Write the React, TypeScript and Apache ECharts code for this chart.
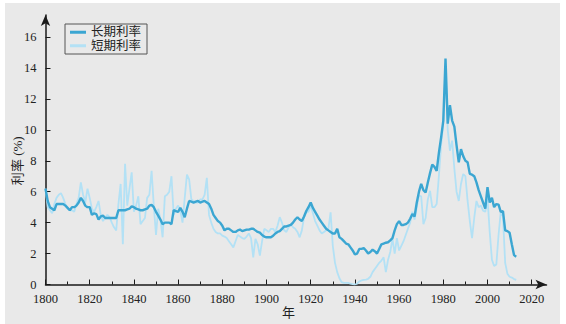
import React, { useEffect, useRef } from 'react';
import * as echarts from 'echarts';

const START_YEAR = 1800;

// 长期利率 (annual, 1800–2013)
const LONG_RATE = [
  6.2, 5.4, 5.0, 4.9, 4.8, 5.2, 5.2, 5.2, 5.2, 5.1,
  4.95, 4.8, 5.0, 5.0, 5.1, 5.3, 5.6, 5.4, 5.1, 5.0,
  5.0, 4.5, 4.6, 4.55, 4.2, 4.4, 4.45, 4.3, 4.3, 4.3,
  4.3, 4.3, 4.3, 4.8, 4.8, 4.8, 4.8, 4.85, 4.9, 5.05,
  5.0, 4.9, 4.85, 4.8, 4.8, 4.85, 4.9, 5.1, 5.15, 5.0,
  4.7, 4.45, 4.2, 3.9, 4.0, 4.0, 4.0, 3.9, 4.8, 4.75,
  4.7, 4.95, 4.7, 4.35, 4.9, 5.4, 5.35, 5.3, 5.35, 5.4,
  5.3, 5.35, 5.4, 5.3, 5.2, 4.9, 4.5, 4.3, 4.1, 4.0,
  3.8, 3.5, 3.6, 3.6, 3.5, 3.4, 3.4, 3.5, 3.55, 3.45,
  3.5, 3.55, 3.55, 3.6, 3.6, 3.5, 3.4, 3.35, 3.2, 3.1,
  3.05, 3.05, 3.05, 3.15, 3.3, 3.4, 3.45, 3.6, 3.75, 3.75,
  3.8, 3.85, 4.0, 4.2, 4.35, 4.2, 4.1, 4.4, 4.75, 5.0,
  5.3, 4.95, 4.7, 4.45, 4.2, 4.0, 3.8, 3.6, 3.5, 3.4,
  3.3, 3.3, 3.6, 3.05, 2.95, 2.8, 2.65, 2.6, 2.4, 2.2,
  1.95, 2.0, 2.3, 2.3, 2.35, 2.2, 2.0, 2.1, 2.25, 2.15,
  2.0, 2.3, 2.6, 2.65, 2.7, 2.73, 2.85, 3.0, 3.5, 3.9,
  4.1, 3.85, 3.85, 3.9, 4.0, 4.25, 4.55, 4.4, 5.3, 6.0,
  6.5, 6.1, 5.95, 6.6, 7.2, 7.75, 7.6, 7.35, 8.5, 9.5,
  10.6, 14.6, 10.4, 11.6, 10.6, 10.2, 9.0, 7.9, 8.75, 8.3,
  8.0, 7.9, 7.15, 7.1, 7.0, 6.6, 6.1, 5.7, 5.3, 4.9,
  6.3, 5.3, 5.6, 5.0, 5.2, 5.16, 4.7, 4.75, 3.5, 3.45,
  3.35, 2.6, 1.9, 1.8,
];

// 短期利率 (annual, 1800–2013)
const SHORT_RATE = [
  6.2, 5.0, 4.8, 4.6, 5.2, 5.6, 5.8, 5.9, 5.6, 5.2,
  4.9, 4.8, 4.8, 4.7, 5.2, 5.6, 6.6, 5.8, 5.3, 6.2,
  5.6, 4.9, 4.7, 5.0, 5.4, 4.5, 4.1, 4.3, 4.5, 4.35,
  4.0, 3.7, 3.5, 5.2, 6.5, 2.6, 7.8, 5.1, 6.2, 7.25,
  4.7, 5.1, 5.7, 3.9, 4.1, 4.3, 5.6, 5.8, 7.35, 5.1,
  3.2, 4.9, 4.2, 3.05, 5.7, 5.8, 6.0, 7.0, 4.5, 4.9,
  5.1, 4.8, 4.0, 5.6, 7.1, 6.8, 5.5, 5.4, 5.3, 5.3,
  5.5, 5.5, 5.8, 6.9, 4.5, 4.0, 3.6, 3.4, 3.3, 3.3,
  3.16, 3.1, 3.0, 2.8, 2.6, 2.4, 2.8, 3.2, 3.1, 3.0,
  2.95, 3.1, 3.3, 3.0, 1.76, 2.95, 2.6, 1.87, 2.8, 3.6,
  3.5, 3.4, 3.6, 3.6, 3.4, 3.8, 4.35, 4.0, 3.5, 3.4,
  3.7, 3.9, 3.7, 3.6, 3.4, 3.05, 3.5, 4.35, 4.7, 4.7,
  5.1, 4.6, 4.1, 3.8, 3.5, 3.3, 3.4, 3.5, 3.6, 4.66,
  2.5, 1.4, 0.8, 0.4, 0.15, 0.1, 0.1, 0.1, 0.05, 0.02,
  0.0, 0.05, 0.2, 0.26, 0.3, 0.32, 0.37, 0.5, 0.8, 1.0,
  1.2, 1.4, 1.55, 1.76, 0.8, 1.6, 2.1, 2.95, 2.0, 3.0,
  2.2, 2.5, 2.8, 3.2, 3.6, 4.0, 4.7, 4.2, 5.0, 5.74,
  5.7, 3.9, 4.3, 5.5, 6.06, 5.0, 5.0, 5.2, 7.0, 9.0,
  10.4, 14.0, 10.0, 8.65, 9.3, 7.5, 6.0, 5.4, 6.5, 7.14,
  7.0, 5.4, 4.1, 3.0, 4.3, 5.4, 5.0, 5.1, 4.77, 4.7,
  5.6, 3.4, 1.6, 1.2, 1.3, 3.2, 4.7, 4.4, 1.4, 0.7,
  0.5, 0.45, 0.35, 0.3,
];

const SERIES_NAMES = ['长期利率', '短期利率'];
const X_NAME = '年';
const Y_NAME = '利率 (%)';

const SERIF = "'Liberation Serif', 'DejaVu Serif', 'Noto Sans CJK SC', serif";

export default function App() {
  const ref = useRef<HTMLDivElement>(null);

  useEffect(() => {
    document.body.style.margin = '0';
    if (!ref.current) return;
    const chart = echarts.init(ref.current, null, { renderer: 'svg' });
    const toPairs = (arr: number[]) => arr.map((v, i) => [START_YEAR + i, v]);
    const axisColor = '#1a1a1a';

    chart.setOption({
      animation: false,
      backgroundColor: 'transparent',
      grid: [
        { left: 45.5, right: 34.3, top: 37, bottom: 39.5, containLabel: false, outerBoundsMode: 'none' },
        { left: 45.5, right: 19.5, top: 15, bottom: 39.5, containLabel: false, outerBoundsMode: 'none' },
      ],
      legend: {
        left: 65,
        top: 24,
        orient: 'vertical',
        data: SERIES_NAMES,
        icon: 'rect',
        itemWidth: 16,
        itemHeight: 3,
        itemGap: 1,
        padding: [2, 6, 2, 5],
        borderColor: '#555',
        borderWidth: 1,
        textStyle: { fontSize: 12.5, color: '#222', fontFamily: SERIF },
      },
      xAxis: [
        {
          type: 'value',
          gridIndex: 0,
          min: 1800,
          max: 2020,
          interval: 20,
          axisLine: { show: false },
          axisTick: { show: true, inside: true, length: 5, lineStyle: { color: axisColor, width: 1 } },
          minorTick: { show: true, splitNumber: 2, length: 3, lineStyle: { color: axisColor, width: 1 } },
          splitLine: { show: false },
          axisLabel: {
            color: '#222',
            fontFamily: SERIF,
            fontSize: 12.5,
            margin: 8,
            formatter: (v: number) => String(v),
          },
          name: X_NAME,
          nameLocation: 'middle',
          nameGap: 21,
          nameMoveOverlap: false,
          nameTextStyle: { color: '#222', fontFamily: SERIF, fontSize: 13 },
        },
        {
          type: 'value',
          gridIndex: 1,
          min: 0,
          max: 1,
          axisLine: {
            show: true,
            symbol: ['none', 'arrow'],
            symbolSize: [7, 11],
            lineStyle: { color: axisColor, width: 1.5 },
          },
          axisTick: { show: false },
          axisLabel: { show: false },
          splitLine: { show: false },
        },
      ],
      yAxis: [
        {
          type: 'value',
          gridIndex: 0,
          min: 0,
          max: 16,
          interval: 2,
          axisLine: { show: false },
          axisTick: { show: true, inside: true, length: 5, lineStyle: { color: axisColor, width: 1 } },
          splitLine: { show: false },
          axisLabel: { color: '#222', fontFamily: SERIF, fontSize: 12.5, margin: 9 },
          name: Y_NAME,
          nameLocation: 'middle',
          nameRotate: 90,
          nameGap: 22,
          nameMoveOverlap: false,
          nameTextStyle: { color: '#222', fontFamily: SERIF, fontSize: 13 },
        },
        {
          type: 'value',
          gridIndex: 1,
          min: 0,
          max: 1,
          axisLine: {
            show: true,
            symbol: ['none', 'arrow'],
            symbolSize: [7, 11],
            lineStyle: { color: axisColor, width: 1.5 },
          },
          axisTick: { show: false },
          axisLabel: { show: false },
          splitLine: { show: false },
        },
      ],
      series: [
        {
          name: SERIES_NAMES[1],
          type: 'line',
          xAxisIndex: 0,
          yAxisIndex: 0,
          data: toPairs(SHORT_RATE),
          symbol: 'none',
          showSymbol: false,
          lineStyle: { color: '#b3e1f5', width: 1.8 },
          itemStyle: { color: '#b3e1f5' },
          z: 2,
        },
        {
          name: SERIES_NAMES[0],
          type: 'line',
          xAxisIndex: 0,
          yAxisIndex: 0,
          data: toPairs(LONG_RATE),
          symbol: 'none',
          showSymbol: false,
          lineStyle: { color: '#3ba6d2', width: 2.4 },
          itemStyle: { color: '#3ba6d2' },
          z: 3,
        },
      ],
    });

    return () => chart.dispose();
  }, []);

  return (
    <div style={{ position: 'relative', width: 566, height: 324, background: '#ffffff', overflow: 'hidden' }}>
      <div style={{ position: 'absolute', left: 5, top: 3, width: 555, height: 321, background: '#e9e9e9' }} />
      <div ref={ref} style={{ position: 'absolute', left: 0, top: 0, width: 566, height: 324 }} />
    </div>
  );
}
